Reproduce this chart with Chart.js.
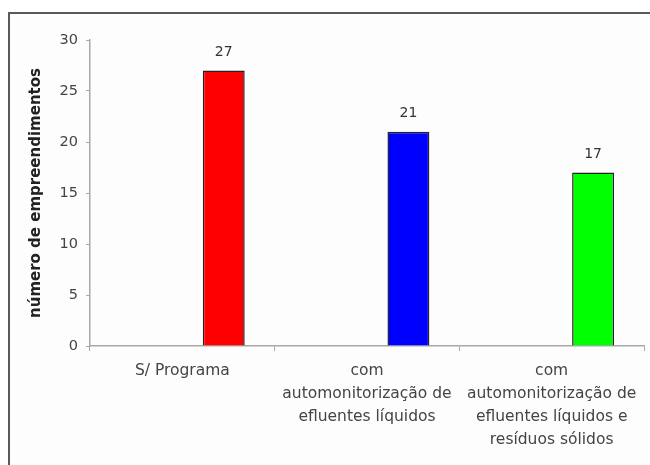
<!DOCTYPE html>
<html>
<head>
<meta charset="utf-8">
<script src="https://cdn.jsdelivr.net/npm/chart.js@4/dist/chart.umd.min.js"></script>
<style>
  html, body { margin: 0; padding: 0; background: #ffffff; overflow: hidden; }
  #wrap { position: relative; width: 650px; height: 465px; overflow: hidden; }
  #frame { position: absolute; left: 8px; top: 12px; width: 700px; height: 500px;
           border: 2px solid #5a5a5a; background: #fdfdfd; box-sizing: border-box; }
  #c { position: absolute; left: 0; top: 0; }
</style>
</head>
<body>
<div id="wrap">
  <div id="frame"></div>
  <canvas id="c" width="650" height="465"></canvas>
</div>
<script>
const categories = [
  ["S/ Programa"],
  ["com", "automonitorização de", "efluentes líquidos"],
  ["com", "automonitorização de", "efluentes líquidos e", "resíduos sólidos"]
];
const values = [27, 21, 17];
const placeholder = [null, null, null];
const barColors = ["#ff0000", "#0000ff", "#00ff00"];
const yTicks = [0, 5, 10, 15, 20, 25, 30];
const yTitle = "número de empreendimentos";

const valueLabels = {
  id: "valueLabels",
  afterDatasetsDraw(chart) {
    const ctx = chart.ctx;
    const meta = chart.getDatasetMeta(1);
    ctx.save();
    ctx.font = "14px 'DejaVu Sans'";
    ctx.fillStyle = "#333333";
    ctx.textAlign = "center";
    ctx.textBaseline = "middle";
    meta.data.forEach((bar, i) => {
      ctx.fillText(String(values[i]), bar.x, bar.y - 18);
    });
    ctx.restore();
  }
};

new Chart(document.getElementById("c"), {
  type: "bar",
  data: {
    labels: categories,
    datasets: [
      { data: placeholder, backgroundColor: "#ffffff" },
      { data: values, backgroundColor: barColors, borderColor: "#222222", borderWidth: 1.5 }
    ]
  },
  options: {
    responsive: false,
    animation: false,
    events: [],
    categoryPercentage: 0.897,
    barPercentage: 0.506,
    layout: { padding: { top: 40, right: 6, bottom: 0, left: 0 } },
    plugins: { legend: { display: false }, tooltip: { enabled: false } },
    scales: {
      x: {
        grid: { drawOnChartArea: false, drawTicks: true, tickLength: 5, color: "#a8a8a8" },
        border: { color: "#a8a8a8", width: 1.5 },
        ticks: {
          color: "#444444",
          font: { family: "'DejaVu Sans'", size: 15.5, lineHeight: "23px" },
          padding: 8,
          maxRotation: 0,
          autoSkip: false
        },
        afterFit(scale) { scale.height = 119; }
      },
      y: {
        min: 0,
        max: 30,
        afterBuildTicks(scale) { scale.ticks = yTicks.map(v => ({ value: v })); },
        grid: { drawOnChartArea: false, drawTicks: true, tickLength: 4, color: "#a8a8a8" },
        border: { color: "#a8a8a8", width: 1.5 },
        ticks: {
          color: "#444444",
          font: { family: "'DejaVu Sans'", size: 14.5 },
          padding: 8
        },
        title: {
          display: true,
          text: yTitle,
          color: "#222222",
          font: { family: "'DejaVu Sans'", size: 15, weight: "bold" },
          padding: { top: 27, bottom: 0 }
        },
        afterFit(scale) { scale.width = 90; }
      }
    }
  },
  plugins: [valueLabels]
});
</script>
</body>
</html>
